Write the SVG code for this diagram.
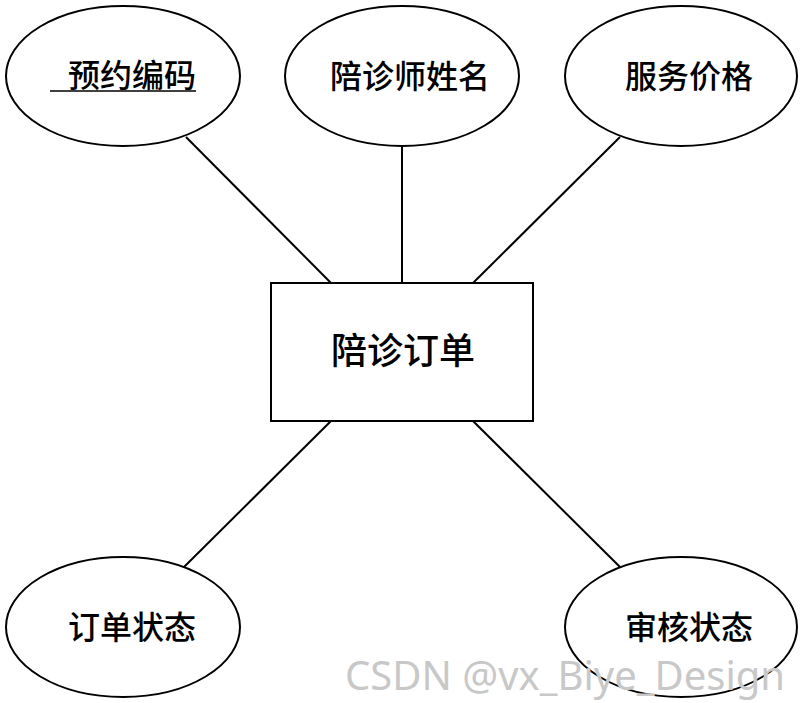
<svg xmlns="http://www.w3.org/2000/svg" width="802" height="703" viewBox="0 0 802 703">
<style>
.shape{fill:#fff;stroke:#000;stroke-width:2}
.lbl{font-family:"Noto Sans CJK SC","Noto Sans CJK TC",sans-serif;font-size:32px;font-weight:500;fill:#000;text-anchor:middle}
.conn line{stroke:#000;stroke-width:2}
.wm{font-family:"Noto Sans","Open Sans",sans-serif;font-size:40px;fill:#c8c8c8}
</style>
<rect width="802" height="703" fill="#fff"/>
<g class="conn" id="connectors">
<line x1="186" y1="137" x2="331" y2="283"/>
<line x1="402" y1="147" x2="402" y2="283"/>
<line x1="620" y1="137" x2="473" y2="283"/>
<line x1="331" y1="421" x2="184" y2="567"/>
<line x1="473" y1="421" x2="620" y2="567"/>
</g>
<g id="n-order">
<rect class="shape" x="271" y="283" width="262" height="138"/>
<text class="lbl" x="403" y="364" style="font-size:36px">陪诊订单</text>
</g>
<g id="n-code">
<ellipse class="shape" cx="123" cy="76" rx="117" ry="70"/>
<text class="lbl" x="132" y="87">预约编码</text>
<line x1="50" y1="91" x2="196" y2="91" stroke="#000" stroke-width="1.5"/>
</g>
<g id="n-name">
<ellipse class="shape" cx="402" cy="76" rx="117" ry="70"/>
<text class="lbl" x="410" y="88">陪诊师姓名</text>
</g>
<g id="n-price">
<ellipse class="shape" cx="681" cy="76" rx="116" ry="70"/>
<text class="lbl" x="689" y="88">服务价格</text>
</g>
<g id="n-status">
<ellipse class="shape" cx="123" cy="627" rx="117" ry="70"/>
<text class="lbl" x="132" y="639">订单状态</text>
</g>
<g id="n-audit">
<ellipse class="shape" cx="681" cy="627" rx="116" ry="70"/>
<text class="lbl" x="689" y="639">审核状态</text>
</g>
<text class="wm" x="345" y="690">CSDN @vx_Biye_Design</text>
</svg>
